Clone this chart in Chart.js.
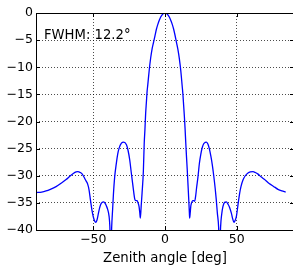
<!DOCTYPE html>
<html>
<head>
<meta charset="utf-8">
<script src="https://cdn.jsdelivr.net/npm/chart.js@4.4.1/dist/chart.umd.min.js"></script>
<style>
  html, body { margin: 0; padding: 0; background: #fff; overflow: hidden; }
  #wrap { width: 295px; height: 267px; }
</style>
</head>
<body>
<div id="wrap"><canvas id="beam" width="295" height="267"></canvas></div>
<script>
// beam pattern (deg, dB)
const angles = [
  -90, -86, -83, -80, -76, -72, -69, -66, -64, -62, -61, -60, -58, -57, -56, -55, -54, -53, -52, -51,
  -50, -49, -48.4, -47.5, -46.5, -45.5, -44.5, -43, -42, -41, -40, -39, -38.5, -37.8, -37.2, -36.5,
  -36, -35.1, -34, -33, -32, -30.4, -28.8, -26.9, -25.8, -24.6, -23.5, -22.3, -21.1, -20.3, -19.5,
  -18.8, -18.1, -17.6, -17.2, -16.6, -16, -15.1, -14.5, -14, -13.5, -13, -12.5, -12, -11, -10, -9,
  -8, -7, -6, -5, -4, -3, -2, -1, 0, 1, 2, 3, 4, 5, 6, 7, 8, 9, 10, 11, 12, 12.5, 13, 13.5, 14, 14.5,
  15, 15.5, 16, 16.5, 17, 17.2, 17.6, 18, 18.4, 19, 19.5, 20, 20.7, 21.5, 22, 23, 24, 25, 26, 27, 28,
  28.9, 30, 31, 32, 33, 34, 35, 35.8, 36.5, 37.4, 38.1, 38.8, 39.5, 40.4, 41.6, 42.8, 43.9, 45, 46.3,
  47.3, 48.1, 49, 49.8, 51, 52.1, 53, 54.4, 56, 57.9, 59.5, 61.4, 63, 64.9, 67, 69.5, 72, 74.2, 76.5,
  78.8, 81.5, 84.2
];
const gainDb = [
  -33.1, -33.0, -32.8, -32.5, -32.0, -31.3, -30.7, -30.0, -29.6, -29.3, -29.25, -29.3, -29.6, -30.0, -30.5, -31.0, -31.5, -32.6, -34.5, -36.3,
  -37.6, -38.4, -38.6, -38.2, -37.0, -35.8, -35.1, -34.8, -35.0, -35.5, -36.2, -37.5, -39.2, -45, -39.5, -36.0,
  -33.5, -30.2, -27.8, -26.0, -24.9, -24.0, -23.8, -24.3, -25.3, -27.1, -29.5, -32.0, -34.3, -34.6, -34.6,
  -35.0, -35.7, -36.8, -37.8, -35.5, -33.2, -29.2, -24.0, -21.5, -18.5, -16.5, -14.5, -13.2, -10.5, -8.3, -6.6,
  -5.4, -4.2, -3.0, -2.1, -1.35, -0.75, -0.33, -0.08, 0, -0.08, -0.33, -0.75, -1.35, -2.05, -2.95, -4.1, -5.4, -6.7, -8.4, -10.6, -13.5, -15.0, -17.0, -19.0, -21.3, -24.0,
  -26.5, -28.8, -31.4, -34.0, -36.8, -37.8, -36.8, -35.6, -35.1, -34.7, -34.6, -34.6, -34.7, -33.5, -32.3, -30.2, -27.7, -26.0, -24.8, -24.1, -23.85,
  -23.8, -24.2, -25.1, -26.4, -28.0, -30.0, -32.3, -34.5, -36.8, -39.4, -45, -39.4, -37.2, -35.7, -34.9, -34.8, -35.2, -35.8, -36.9,
  -38.0, -38.6, -38.2, -37.5, -35.2, -33.2, -32.0, -30.8, -30.0, -29.5, -29.3, -29.25, -29.4, -29.7, -30.2, -30.7, -31.3, -31.7, -32.1,
  -32.5, -32.8, -33.0
];
const xTicks = [-50, 0, 50];
const yTicks = [0, -5, -10, -15, -20, -25, -30, -35, -40];
const fwhmLabel = "FWHM: 12.2\u00b0";

const FONT = "DejaVu Sans";
const fmt = (v) => (v < 0 ? "\u2212" + Math.abs(v) : String(v));

const frame = {
  id: "frame",
  afterDatasetsDraw(chart) {
    const { ctx, chartArea: a, scales } = chart;
    ctx.save();
    ctx.strokeStyle = "#000";
    ctx.lineWidth = 1;
    ctx.beginPath();
    for (const v of xTicks) {
      const px = Math.round(scales.x.getPixelForValue(v)) + 0.5;
      ctx.moveTo(px, a.top); ctx.lineTo(px, a.top + 4);
      ctx.moveTo(px, a.bottom); ctx.lineTo(px, a.bottom - 4);
    }
    for (const v of yTicks) {
      const py = Math.round(scales.y.getPixelForValue(v)) + 0.5;
      ctx.moveTo(a.left, py); ctx.lineTo(a.left + 4, py);
      ctx.moveTo(a.right, py); ctx.lineTo(a.right - 4, py);
    }
    ctx.stroke();
    ctx.strokeRect(Math.round(a.left) + 0.5, Math.round(a.top) + 0.5,
      Math.round(a.right - a.left), Math.round(a.bottom - a.top));

    ctx.fillStyle = "#000";
    ctx.font = `13.2px "${FONT}"`;
    ctx.textBaseline = "alphabetic";
    ctx.textAlign = "left";
    ctx.fillText(fwhmLabel, a.left + 8, scales.y.getPixelForValue(-4.85));
    ctx.restore();
  },
};

new Chart(document.getElementById("beam"), {
  type: "line",
  data: {
    datasets: [{
      data: angles.map((a, i) => ({ x: a, y: gainDb[i] })),
      borderColor: "#0000ff",
      borderWidth: 1.3,
      pointRadius: 0,
      cubicInterpolationMode: "monotone",
      fill: false,
      clip: 0,
    }],
  },
  options: {
    responsive: false,
    animation: false,
    devicePixelRatio: 1,
    layout: { padding: { top: 13, right: 1, bottom: 0, left: 0 } },
    plugins: { legend: { display: false }, tooltip: { enabled: false } },
    scales: {
      x: {
        type: "linear",
        min: -90,
        max: 90,
        afterBuildTicks: (s) => { s.ticks = xTicks.map((v) => ({ value: v })); },
        afterFit: (s) => { s.height = 37; },
        ticks: {
          callback: fmt,
          color: "#000",
          font: { family: FONT, size: 12.5 },
          padding: 2,
          maxRotation: 0,
          autoSkip: false,
        },
        grid: { color: "rgba(0,0,0,0.7)", lineWidth: 1, drawTicks: false },
        border: { display: false, dash: [1, 2] },
        title: {
          display: true,
          text: "Zenith angle [deg]",
          color: "#000",
          font: { family: FONT, size: 13.3 },
          padding: { top: 0, bottom: 0 },
        },
      },
      y: {
        type: "linear",
        min: -40,
        max: 0,
        afterBuildTicks: (s) => { s.ticks = yTicks.map((v) => ({ value: v })); },
        afterFit: (s) => { s.width = 36; },
        ticks: {
          callback: fmt,
          color: "#000",
          font: { family: FONT, size: 12.5 },
          padding: 3,
          autoSkip: false,
        },
        grid: { color: "rgba(0,0,0,0.7)", lineWidth: 1, drawTicks: false },
        border: { display: false, dash: [1, 2] },
      },
    },
  },
  plugins: [frame],
});
</script>
</body>
</html>
